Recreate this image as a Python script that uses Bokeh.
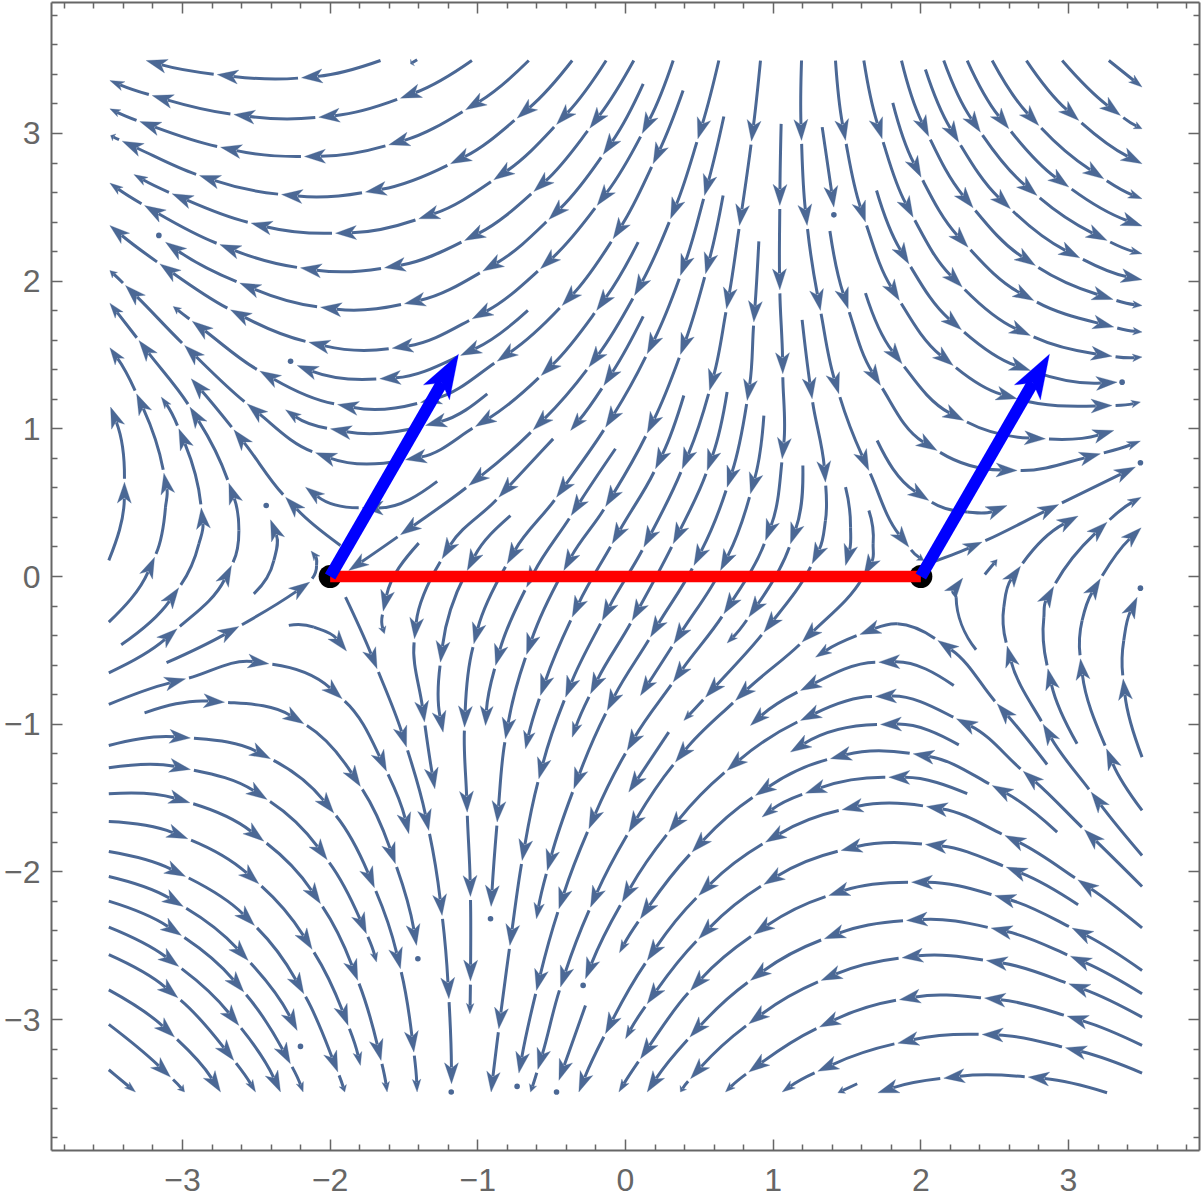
import math
from bokeh.embed import file_html
from bokeh.resources import INLINE
from bokeh.plotting import figure
from bokeh.models import LinearAxis, FixedTicker, ColumnDataSource

# Streamlines, in flow order. A point (x, y) ends an arrowed
# piece; a point (x, y, 0) only shapes the curve.
upper_left_streams = [
    [(-1.659,3.494),(-2.194,3.377),(-2.765,3.399),(-3.246,3.494)],
    [(-1.04,3.494),(-1.524,3.239),(-2.077,3.11),(-2.652,3.129),(-3.205,3.257),(-3.492,3.359)],
    [(-.655,3.494),(-1.083,3.16),(-1.603,2.923),(-2.174,2.844),(-2.742,2.907),(-3.289,3.081),(-3.492,3.167)],
    [(-.361,3.494),(-.734,3.104),(-1.185,2.795),(-1.761,2.603),(-2.329,2.587),(-2.885,2.716),(-3.408,2.948),(-3.487,2.986)],
    [(-.131,3.494),(-.467,3.061),(-.892,2.686),(-1.4,2.422),(-1.964,2.325),(-2.535,2.393),(-3.07,2.592),(-3.329,2.722)],
    [(.056,3.494),(-.242,3.036),(-.621,2.607),(-1.09,2.275),(-1.632,2.09),(-2.201,2.09),(-2.747,2.248),(-3.257,2.512),(-3.492,2.664)],
    [(.12,3.336),(-.151,2.858),(-.519,2.418),(-.966,2.068),(-1.497,1.847),(-2.065,1.824),(-2.612,1.987),(-3.115,2.264)],
    [(.323,3.494),(.113,3.0),(-.192,2.513),(-.576,2.084),(-1.038,1.745),(-1.58,1.546),(-2.144,1.587),(-2.675,1.806),(-3.153,2.117),(-3.492,2.377)],
    [(-.661,1.802),(-1.117,1.497),(-1.664,1.339),(-2.223,1.429)],
    [(.39,3.291),(.187,2.795),(-.084,2.287),(-.429,1.835),(-.869,1.458),(-1.388,1.178),(-1.95,1.165),(-2.476,1.391),(-2.934,1.729),(-3.063,1.829)],
    [(-.936,1.237),(-1.354,1.023),(-1.998,1.0),(-2.302,1.129)],
    [(.086,2.264),(-.196,1.802),(-.571,1.361),(-1.016,1.016),(-1.49,.79),(-2.099,.838),(-2.562,1.169),(-2.986,1.565),(-3.386,1.971),(-3.492,2.072)],
    [(-1.275,.644),(-1.783,.465),(-2.167,.605)],
    [(-1.93,.21),(-2.302,.537),(-2.652,.993),(-2.941,1.339)],
    [(-1.411,3.499),(-1.456,3.472)],
]
central_streams = [
    [(.632,3.494),(.49,2.964),(.305,2.422),(.061,1.903),(-.248,1.418),(-.625,.993),(-1.061,.616),(-1.524,.282),(-1.874,.041)],
    [(.666,3.115),(.535,2.58),(.372,2.039),(.147,1.508),(-.135,1.011),(-.467,.537),(-.801,.086),(-1.027,-.456),(-1.09,-1.02),(-1.072,-1.596),(-1.05,-2.167),(-1.05,-2.74),(-1.054,-2.961)],
    [(.914,3.494),(.853,2.948),(.772,2.377),(.684,1.813),(.569,1.26),(.384,.729),(.124,.199),(-.158,-.298),(-.406,-.817),(-.587,-1.37),(-.7,-1.923),(-.783,-2.498),(-.858,-3.063),(-.91,-3.491)],
    [(.661,2.58),(.542,2.05),(.372,1.504),(.147,.971),(-.135,.474),(-.418,.041),(-.67,-.528),(-.813,-1.099),(-.869,-1.663),(-.91,-2.234)],
    [(.12,1.761),(-.147,1.294),(-.372,.989)],
    [(.903,2.269),(.869,1.723),(.824,1.192),(.688,.605),(.463,.075),(.169,-.41),(-.124,-.907),(-.35,-1.438),(-.53,-1.991),(-.603,-2.318)],
    [(1.054,3.065),(1.045,2.513),(1.045,1.941),(1.065,1.373),(1.061,.797),(.948,.244),(.666,-.252),(.323,-.715),(.011,-1.178),(-.248,-1.708),(-.451,-2.25),(-.603,-2.803),(-.722,-3.363)],
    [(1.201,.752),(1.117,.221),(.835,-.275),(.688,-.451)],
    [(.937,1.09),(.846,.56),(.643,.041),(.327,-.456),(.101,-.806)],
    [(.688,1.249),(.553,.718),(.323,.222),(.045,-.298),(-.237,-.794),(-.361,-1.088)],
    [(.395,1.226),(.203,.729),(-.09,.222),(-.361,-.275),(-.576,-.805),(-.677,-1.167)],
    [(-.068,.865),(-.368,.413),(-.67,-.072),(-.88,-.602),(-.948,-1.009)],
    [(-.49,.932),(-.858,.537),(-1.242,.12),(-1.429,-.422),(-1.361,-.986),(-1.291,-1.438)],
    [(-.779,.413),(-1.072,.041),(-1.253,-.58),(-1.235,-1.054)],
    [(-1.4,.226),(-1.641,-.235),(-1.632,-.388)],
    [(-.271,-2.905),(-.451,-3.412)],
    [(.293,-1.054),(.022,-1.46)],
    [(1.648,.447),(1.677,.221,0),(1.614,.007),(1.196,-.444),(.745,-.839),(.338,-1.257),(.022,-1.731),(-.237,-2.239),(-.44,-2.78),(-.594,-3.338),(-.643,-3.491)],
    [(1.196,1.738),(1.264,1.203),(1.354,.639),(1.354,.379,0),(1.264,.086),(.937,-.377),(.542,-.817),(.395,-.975)],
    [(1.49,.605),(1.524,.334,0),(1.49,.075)],
]
left_streams = [
    [(-3.499,.109),(-3.393,.639),(-3.487,1.147)],
    [(-3.499,-.309),(-3.189,.131),(-3.115,.47,0),(-3.126,.7),(-3.311,1.237),(-3.492,1.549)],
    [(-3.415,-.462),(-3.025,-.076),(-2.889,.221,0),(-2.873,.465),(-3.025,1.0),(-3.144,1.215)],
    [(-3.499,-.652),(-3.036,-.354),(-2.668,.075),(-2.618,.312,0),(-2.686,.632),(-2.95,1.147),(-3.295,1.598),(-3.492,1.851)],
    [(-3.108,-.584),(-2.618,-.338),(-2.138,-.038)],
    [(-2.122,-.015),(-2.092,.075,0),(-2.129,.172)],
    [(-2.517,-.117),(-2.381,.109,0),(-2.404,.384)],
    [(-2.28,-.331),(-2.11,-.343,0),(-1.889,-.505)],
    [(-1.896,-.14),(-1.682,-.625),(-1.483,-1.155),(-1.332,-1.72),(-1.242,-2.295),(-1.196,-2.859),(-1.178,-3.435)],
]
lower_left_streams = [
    [(-3.499,-.866),(-2.979,-.693),(-2.415,-.591),(-1.919,-.828),(-1.618,-1.318),(-1.467,-1.742)],
    [(-3.257,-.923),(-2.715,-.851),(-2.178,-.997),(-1.795,-1.422),(-1.558,-1.945),(-1.415,-2.498)],
    [(-3.499,-1.144),(-2.946,-1.094),(-2.404,-1.234),(-1.975,-1.602),(-1.7,-2.108),(-1.524,-2.656),(-1.433,-3.221),(-1.411,-3.491)],
    [(-3.499,-1.295),(-2.946,-1.307),(-2.427,-1.51),(-2.02,-1.918),(-1.754,-2.419),(-1.686,-2.611)],
    [(-3.499,-1.471),(-2.95,-1.532),(-2.449,-1.792),(-2.065,-2.216),(-1.813,-2.735),(-1.655,-3.277),(-1.614,-3.491)],
    [(-3.499,-1.659),(-2.964,-1.776),(-2.483,-2.081),(-2.122,-2.525),(-1.878,-3.04),(-1.795,-3.311)],
    [(-3.499,-1.862),(-2.979,-2.031),(-2.512,-2.363),(-2.178,-2.826),(-1.948,-3.356),(-1.901,-3.491)],
    [(-3.499,-2.031),(-2.995,-2.234),(-2.555,-2.6),(-2.223,-3.074)],
    [(-3.499,-2.198),(-3.007,-2.431),(-2.584,-2.814),(-2.269,-3.3),(-2.183,-3.491)],
    [(-3.499,-2.374),(-3.025,-2.641),(-2.618,-3.04),(-2.336,-3.491)],
    [(-3.499,-2.561),(-3.031,-2.853),(-2.652,-3.277),(-2.505,-3.491)],
    [(-3.499,-2.799),(-3.054,-3.119),(-2.742,-3.491)],
    [(-3.499,-3.033),(-3.081,-3.39),(-2.986,-3.491)],
    [(-3.499,-3.34),(-3.318,-3.491)],
]
upper_right_streams = [
    [(1.192,3.494),(1.192,2.953),(1.23,2.377),(1.32,1.802),(1.445,1.237),(1.648,.718),(1.919,.199),(2.02,.109)],
    [(1.332,3.043),(1.411,2.501)],
    [(1.384,2.339),(1.508,1.813),(1.727,1.294),(2.11,.853),(2.652,.718),(3.216,.831),(3.487,.917)],
    [(1.422,3.494),(1.49,2.953),(1.625,2.4),(1.855,1.869),(2.219,1.429),(2.652,1.203),(3.295,1.158),(3.487,1.181)],
    [(1.625,1.919),(1.873,1.44),(2.291,1.057),(2.844,.932),(3.307,.989)],
    [(1.7,2.614),(1.919,2.117),(2.275,1.671),(2.742,1.395),(3.329,1.316)],
    [(1.614,3.494),(1.738,2.964),(1.948,2.433),(2.28,1.96),(2.742,1.632),(3.295,1.492),(3.498,1.486)],
    [(1.81,3.208),(2.002,2.704),(2.32,2.23),(2.765,1.869),(3.307,1.689),(3.498,1.655)],
    [(1.869,3.494),(2.054,2.98),(2.354,2.497),(2.776,2.106),(3.302,1.876),(3.498,1.835)],
    [(2.031,3.433),(2.257,2.941),(2.607,2.49),(3.076,2.158),(3.498,2.009)],
    [(2.155,3.494),(2.404,3.009),(2.787,2.58),(3.261,2.276),(3.498,2.185)],
    [(2.314,3.494),(2.596,3.032),(3.002,2.637),(3.498,2.373)],
    [(2.483,3.494),(2.799,3.054),(3.239,2.693),(3.498,2.558)],
    [(2.715,3.494),(3.07,3.088),(3.498,2.795)],
    [(2.957,3.494),(3.352,3.122),(3.498,3.032)],
    [(3.273,3.494),(3.498,3.314)],
    [(1.704,.921),(2.054,.515),(2.314,.436,0),(2.584,.481)],
]
right_streams = [
    [(3.498,-1.889),(3.153,-1.46),(2.828,-1.0),(2.584,-.471),(2.562,-.207,0),(2.675,.07),(3.065,.409)],
    [(3.058,-1.133),(2.86,-.625),(2.833,-.275,0),(2.9,-.067),(3.261,.368),(3.492,.537)],
    [(3.498,-1.584),(3.257,-1.167),(3.081,-.557),(3.092,-.298,0),(3.216,-.015),(3.492,.33)],
    [(3.498,-1.223),(3.37,-.693),(3.374,-.433,0),(3.465,-.14)],
    [(2.374,-.496),(2.239,-.14,0),(2.284,-.011)],
    [(2.433,.014),(2.517,.115)],
    [(2.043,.086),(2.415,.233),(2.934,.488),(3.453,.741)],
]
lower_right_streams = [
    [(3.498,-2.099),(3.108,-1.715),(2.693,-1.318),(2.241,-.963),(1.693,-.812),(1.185,-.975),(.688,-1.313),(.293,-1.731),(-.023,-2.205),(-.271,-2.724)],
    [(2.923,-1.731),(2.483,-1.415),(1.948,-1.201),(1.388,-1.234),(.88,-1.483),(.451,-1.866),(.1,-2.318),(-.041,-2.548)],
    [(2.855,-1.273),(2.517,-.862),(2.115,-.433),(1.84,-.32,0),(1.587,-.392),(1.287,-.546)],
    [(2.223,-.738),(1.715,-.58),(1.185,-.772),(.846,-1.009)],
    [(2.257,-1.14),(1.727,-1.002),(1.117,-1.189)],
    [(2.314,-1.471),(1.783,-1.359),(1.219,-1.467),(.925,-1.629)],
    [(3.498,-2.379),(3.063,-2.054),(2.569,-1.754),(2.038,-1.557),(1.467,-1.58),(.948,-1.799),(.496,-2.16),(.147,-2.6),(-.136,-3.096),(-.316,-3.491)],
    [(3.065,-2.223),(2.578,-1.968),(2.031,-1.814),(1.46,-1.855),(.937,-2.085),(.496,-2.453),(.147,-2.893),(0.0,-3.13)],
    [(3.498,-2.668),(3.024,-2.381),(2.501,-2.16),(1.937,-2.07),(1.377,-2.16),(.869,-2.424),(.44,-2.803),(.101,-3.266),(-.045,-3.491)],
    [(3.498,-2.826),(3.013,-2.571),(2.476,-2.381),(1.903,-2.329),(1.347,-2.453),(.846,-2.735),(.436,-3.119),(.147,-3.491)],
    [(3.498,-2.984),(3.002,-2.758),(2.444,-2.6),(1.873,-2.582),(1.325,-2.735),(.835,-3.029),(.44,-3.401),(.372,-3.491)],
    [(3.498,-3.175),(2.991,-2.977),(2.431,-2.855),(1.855,-2.866),(1.314,-3.051),(.835,-3.356),(.677,-3.491)],
    [(3.498,-3.363),(2.979,-3.191),(2.415,-3.101),(1.844,-3.16),(1.302,-3.351),(1.061,-3.491)],
    [(3.261,-3.496),(2.727,-3.39),(2.155,-3.397),(1.709,-3.496)],
    [(1.569,-3.435),(1.438,-3.496)],
]
dot_x = [-3.16,-2.268,-2.433,1.411,3.363,3.487,3.487,-1.406,-.914,-.287,-2.201,-1.18,-.734,-.467]
dot_y = [2.31,1.458,.481,2.449,1.316,-.079,.77,-2.589,-2.318,-2.769,-3.182,-3.491,-3.453,-3.491]

charge_x = [-2.0, 2.0]
charge_y = [0.0, 0.0]
vector_tip_x = [-1.131, 2.871]
vector_tip_y = [1.505, 1.505]
x_ticks = [-3, -2, -1, 0, 1, 2, 3]
y_ticks = [-3, -2, -1, 0, 1, 2, 3]
minor_ticks = [i / 5 for i in range(-19, 20) if i % 5]
tick_labels = {-3: "−3", -2: "−2", -1: "−1", 0: "0", 1: "1", 2: "2", 3: "3"}

all_streams = (upper_left_streams + central_streams + left_streams + lower_left_streams
               + upper_right_streams + right_streams + lower_right_streams)

# Styles, in screen pixels and converted with the plot's scale.
PX = 7.774 / 1148
STREAM = "#4b6895"
GREY = "#666666"
HEAD_LEN, HEAD_HALF, HEAD_NOTCH = 21 * PX, 7.0 * PX, 15.5 * PX
GAP = 3.5 * PX


def unit(dx, dy):
    n = math.hypot(dx, dy) or 1.0
    return dx / n, dy / n


def head_patch(tx, ty, dx, dy, length, half, notch):
    nx, ny = -dy, dx
    return ([tx, tx - dx * length + nx * half, tx - dx * notch, tx - dx * length - nx * half],
            [ty, ty - dy * length + ny * half, ty - dy * notch, ty - dy * length - ny * half])


bez = {k: [] for k in ("x0", "y0", "x1", "y1", "cx0", "cy0", "cx1", "cy1")}
heads_x, heads_y = [], []

for stream in all_streams:
    n = len(stream)
    pts = [(p[0], p[1]) for p in stream]
    tips = [len(p) == 2 for p in stream]
    # tangents at the read points
    dirs = []
    for i in range(n):
        if 0 < i < n - 1:
            a, b = unit(pts[i][0] - pts[i-1][0], pts[i][1] - pts[i-1][1])
            c, d = unit(pts[i+1][0] - pts[i][0], pts[i+1][1] - pts[i][1])
            dirs.append(unit(a + c, b + d))
        else:
            dirs.append(None)
    if n == 2:
        dirs[0] = dirs[1] = unit(pts[1][0] - pts[0][0], pts[1][1] - pts[0][1])
    else:
        a, b = unit(pts[1][0] - pts[0][0], pts[1][1] - pts[0][1])
        dirs[0] = unit(2 * a - dirs[1][0], 2 * b - dirs[1][1])
        a, b = unit(pts[-1][0] - pts[-2][0], pts[-1][1] - pts[-2][1])
        dirs[-1] = unit(2 * a - dirs[-2][0], 2 * b - dirs[-2][1])
    # length of each arrowed piece sets the size of its head
    seg_len = 0.0
    for i in range(1, n):
        chord = math.hypot(pts[i][0] - pts[i-1][0], pts[i][1] - pts[i-1][1])
        seg_len += chord
        is_tip = tips[i] or i == n - 1
        scale = min(1.0, 0.32 * seg_len / HEAD_LEN) if is_tip else 1.0
        sx, sy = pts[i-1]
        if i > 1 and tips[i-1]:
            sx += dirs[i-1][0] * GAP
            sy += dirs[i-1][1] * GAP
        ex, ey = pts[i]
        if is_tip:
            back = HEAD_NOTCH * scale * 1.05
            ex -= dirs[i][0] * back
            ey -= dirs[i][1] * back
            hx, hy = head_patch(pts[i][0], pts[i][1], dirs[i][0], dirs[i][1],
                                HEAD_LEN * scale, HEAD_HALF * max(scale, 0.55), HEAD_NOTCH * scale)
            heads_x.append(hx)
            heads_y.append(hy)
            seg_len = 0.0
        span = math.hypot(ex - sx, ey - sy) / 3
        bez["x0"].append(sx); bez["y0"].append(sy)
        bez["x1"].append(ex); bez["y1"].append(ey)
        bez["cx0"].append(sx + dirs[i-1][0] * span); bez["cy0"].append(sy + dirs[i-1][1] * span)
        bez["cx1"].append(ex - dirs[i][0] * span); bez["cy1"].append(ey - dirs[i][1] * span)

p = figure(frame_width=1148, frame_height=1148, x_range=(-3.887, 3.887), y_range=(-3.887, 3.887),
           min_border_left=51, min_border_right=2, min_border_top=2, min_border_bottom=53,
           output_backend="svg", toolbar_location=None, x_axis_location=None, y_axis_location=None,
           background_fill_color="white", border_fill_color="white")
p.styles = {"position": "absolute", "left": "0px", "top": "0px"}
p.grid.visible = False
p.outline_line_color = None


def make_axis(ticks, labelled):
    ax = LinearAxis(ticker=FixedTicker(ticks=ticks, minor_ticks=minor_ticks))
    ax.axis_line_color = GREY
    ax.axis_line_width = 2
    ax.major_tick_line_color = GREY
    ax.major_tick_line_width = 1.5
    ax.minor_tick_line_color = GREY
    ax.minor_tick_line_width = 1.5
    ax.major_tick_in = 11
    ax.major_tick_out = 0
    ax.minor_tick_in = 6
    ax.minor_tick_out = 0
    if labelled:
        ax.major_label_overrides = tick_labels
        ax.major_label_text_font = "Liberation Sans"
        ax.major_label_text_font_size = "32px"
        ax.major_label_text_color = GREY
    else:
        ax.major_label_text_font_size = "0px"
        ax.major_label_text_color = None
        ax.major_label_standoff = 0
    return ax


bottom = make_axis(x_ticks, True)
bottom.major_label_standoff = 18
left = make_axis(y_ticks, True)
left.major_label_standoff = 11
p.add_layout(bottom, "below")
p.add_layout(left, "left")
p.add_layout(make_axis(x_ticks, False), "above")
p.add_layout(make_axis(y_ticks, False), "right")

p.bezier(x0="x0", y0="y0", x1="x1", y1="y1", cx0="cx0", cy0="cy0", cx1="cx1", cy1="cy1",
         source=ColumnDataSource(bez), line_color=STREAM, line_width=3)
p.patches(heads_x, heads_y, fill_color=STREAM, line_color=STREAM, line_width=0.3)
p.scatter(dot_x, dot_y, size=5.6, marker="circle", fill_color=STREAM, line_color=None)

# charges, the segment between them, and the two blue vectors
p.scatter(charge_x, charge_y, size=23, marker="circle", fill_color="black", line_color=None)
p.line(charge_x, charge_y, line_color="#ff0000", line_width=11.5, line_cap="butt")
vec_len, vec_half, vec_notch = 44 * PX, 15 * PX, 33 * PX
for cx, cy, tx, ty in zip(charge_x, charge_y, vector_tip_x, vector_tip_y):
    dx, dy = unit(tx - cx, ty - cy)
    p.line([cx, tx - dx * vec_notch], [cy, ty - dy * vec_notch], line_color="#0000ff",
           line_width=12, line_cap="butt")
    hx, hy = head_patch(tx, ty, dx, dy, vec_len, vec_half, vec_notch)
    p.patch(hx, hy, fill_color="#0000ff", line_color="#0000ff", line_width=0.3)

html = file_html(p, INLINE)
open("out.html", "w").write(html)
